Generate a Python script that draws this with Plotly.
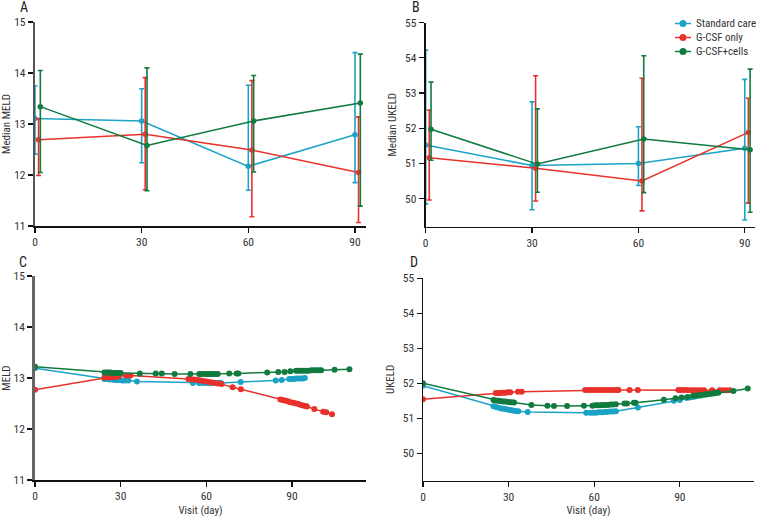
import plotly.graph_objects as go

# ---------------- data ----------------
visit_days = [0, 30, 60, 90]
series_names = ["Standard care", "G-CSF only", "G-CSF+cells"]

# Panel A: median MELD with error bars (low / high)
A_std = [13.11, 13.06, 12.17, 12.79]
A_std_lo = [12.41, 12.24, 11.70, 11.85]
A_std_hi = [13.75, 13.69, 13.76, 14.40]
A_gcsf = [12.69, 12.80, 12.49, 12.05]
A_gcsf_lo = [11.99, 11.71, 11.18, 11.07]
A_gcsf_hi = [13.10, 13.91, 13.85, 13.14]
A_cells = [13.34, 12.58, 13.06, 13.41]
A_cells_lo = [12.05, 11.69, 12.06, 11.39]
A_cells_hi = [14.05, 14.10, 13.95, 14.37]

# Panel B: median UKELD with error bars
B_std = [51.52, 50.94, 51.00, 51.43]
B_std_lo = [49.85, 49.68, 50.37, 49.39]
B_std_hi = [54.22, 52.75, 52.04, 53.39]
B_gcsf = [51.16, 50.86, 50.50, 51.88]
B_gcsf_lo = [49.96, 49.93, 49.65, 49.87]
B_gcsf_hi = [52.52, 53.49, 53.42, 52.85]
B_cells = [51.97, 50.98, 51.69, 51.39]
B_cells_lo = [51.09, 50.18, 50.17, 49.61]
B_cells_hi = [53.31, 52.55, 54.06, 53.68]

# Panel C: modelled MELD by visit day
C_std_days = [0, 24.3, 25.2, 26.1, 27.0, 27.9, 28.8, 29.7, 30.6, 31.5, 32.7, 35.7,
              55.3, 57.5, 58.5, 59.5, 60.5, 61.5, 62.5, 63.5, 64.5, 65.1, 72.0,
              84.3, 86.4, 89.0, 89.8, 90.6, 91.4, 92.2, 93.0, 93.8, 94.5]
C_std = [13.19, 12.98, 12.98, 12.97, 12.97, 12.96, 12.96, 12.96, 12.95, 12.95, 12.95, 12.93,
         12.90, 12.90, 12.90, 12.90, 12.90, 12.90, 12.90, 12.90, 12.90, 12.90, 12.92,
         12.95, 12.96, 12.98, 12.98, 12.98, 12.99, 12.99, 12.99, 12.99, 13.00]
C_gcsf_days = [0, 24.3, 25.0, 25.7, 26.4, 27.1, 27.8, 28.5, 29.2, 31.9, 33.4,
               53.7, 54.8, 55.9, 57.0, 58.0, 59.0, 60.0, 61.0, 62.0, 63.0, 64.0, 65.3,
               69.2, 72.1, 85.9, 86.7, 87.5, 88.3, 89.1, 89.9, 90.7, 91.5, 92.3, 93.1,
               93.9, 94.7, 95.2, 97.8, 100.9, 102.0, 104.0]
C_gcsf = [12.77, 13.01, 13.01, 13.01, 13.02, 13.02, 13.02, 13.03, 13.03, 13.05, 13.05,
          12.98, 12.97, 12.97, 12.96, 12.95, 12.94, 12.93, 12.92, 12.91, 12.90, 12.89, 12.88,
          12.82, 12.78, 12.58, 12.57, 12.56, 12.55, 12.53, 12.52, 12.51, 12.50, 12.49, 12.47,
          12.46, 12.45, 12.44, 12.39, 12.34, 12.33, 12.29]
C_cells_days = [0, 24.3, 25.0, 25.7, 26.4, 27.1, 27.8, 28.5, 29.2, 30.0,
                36.7, 42.3, 44.4, 48.9, 54.4, 57.5, 58.3, 59.2, 60.0, 60.8, 61.6, 62.4,
                63.2, 64.0, 68.0, 70.6, 71.2, 81.3, 85.2, 87.4, 89.4, 91.4, 92.3, 93.2,
                94.1, 95.0, 95.9, 96.8, 97.7, 98.6, 99.5, 100.2, 104.9, 110.1]
C_cells = [13.22, 13.11, 13.11, 13.11, 13.11, 13.10, 13.10, 13.10, 13.10, 13.10,
           13.09, 13.09, 13.09, 13.08, 13.08, 13.08, 13.08, 13.08, 13.08, 13.08, 13.08, 13.08,
           13.08, 13.08, 13.09, 13.09, 13.09, 13.11, 13.12, 13.12, 13.13, 13.14, 13.14, 13.14,
           13.14, 13.14, 13.14, 13.15, 13.15, 13.15, 13.15, 13.15, 13.16, 13.17]

# Panel D: modelled UKELD by visit day
D_std_days = [0, 24.7, 25.6, 26.5, 27.4, 28.3, 29.2, 30.0, 30.8, 31.6, 32.4, 33.4, 36.7,
              57.2, 58.6, 59.6, 60.6, 61.6, 62.6, 63.6, 64.6, 65.6, 66.6, 67.6, 75.3,
              87.9, 90.0, 92.4, 93.4, 94.4, 95.4, 96.4, 97.4, 98.4, 99.4, 100.4, 101.4,
              102.4, 103.5]
D_std = [51.93, 51.34, 51.32, 51.30, 51.28, 51.27, 51.26, 51.24, 51.23, 51.22, 51.21, 51.20, 51.18,
         51.16, 51.16, 51.16, 51.16, 51.17, 51.17, 51.18, 51.18, 51.19, 51.19, 51.20, 51.31,
         51.50, 51.52, 51.58, 51.59, 51.61, 51.62, 51.64, 51.65, 51.67, 51.68, 51.70, 51.72,
         51.74, 51.75]
D_gcsf_days = [0, 25.5, 26.2, 26.9, 27.6, 28.3, 29.0, 29.7, 30.6, 33.3, 34.6,
               56.8, 57.8, 58.8, 59.8, 60.8, 61.8, 62.8, 63.8, 64.8, 65.8, 66.8, 67.8, 68.5,
               72.4, 75.3, 89.5, 90.5, 91.5, 92.5, 93.5, 94.5, 95.5, 96.5, 97.5, 98.5,
               101.3, 104.0, 105.2, 106.4, 107.5]
D_gcsf = [51.54, 51.72, 51.72, 51.72, 51.73, 51.73, 51.73, 51.74, 51.74, 51.76, 51.76,
          51.81, 51.81, 51.81, 51.81, 51.81, 51.81, 51.81, 51.81, 51.81, 51.81, 51.81, 51.81, 51.81,
          51.81, 51.81, 51.81, 51.81, 51.81, 51.81, 51.80, 51.80, 51.80, 51.80, 51.80, 51.80,
          51.80, 51.80, 51.80, 51.80, 51.80]
D_cells_days = [0, 24.7, 25.5, 26.3, 27.1, 27.9, 28.7, 29.5, 30.3, 31.1, 31.9,
                38.0, 43.6, 45.9, 50.5, 56.4, 59.4, 60.3, 61.2, 62.1, 63.0, 63.9, 64.8,
                65.7, 66.6, 67.6, 70.6, 71.5, 73.9, 74.5, 84.4, 88.5, 90.6, 92.7, 94.7,
                95.7, 96.7, 97.7, 98.7, 99.7, 100.7, 101.7, 102.6, 103.5, 108.8, 113.8]
D_cells = [52.00, 51.52, 51.51, 51.50, 51.49, 51.48, 51.48, 51.47, 51.46, 51.46, 51.45,
           51.38, 51.36, 51.35, 51.35, 51.36, 51.36, 51.37, 51.37, 51.37, 51.38, 51.38, 51.38,
           51.39, 51.39, 51.40, 51.42, 51.42, 51.44, 51.44, 51.53, 51.57, 51.59, 51.61, 51.64,
           51.65, 51.66, 51.67, 51.68, 51.69, 51.70, 51.71, 51.72, 51.73, 51.78, 51.85]

# ---------------- style ----------------
COLORS = ["#1ba3c6", "#e8312b", "#107a3f"]
DODGE = [0.0, 1.0, 1.5]          # horizontal dodge (days) of error-bar panels
FONT = "Liberation Sans Narrow, Roboto Condensed, Open Sans, sans-serif"
TXT = "#333333"

fig = go.Figure()

def err_traces(vals, los, his, k, xa, ya):
    xs = [d + DODGE[k] for d in visit_days]
    fig.add_trace(go.Scatter(
        x=xs, y=vals, mode="lines+markers", name=series_names[k],
        xaxis=xa, yaxis=ya, showlegend=False,
        line=dict(color=COLORS[k], width=1.5),
        marker=dict(color=COLORS[k], size=5.5),
        error_y=dict(type="data", symmetric=False,
                     array=[h - v for h, v in zip(his, vals)],
                     arrayminus=[v - l for l, v in zip(los, vals)],
                     color=COLORS[k], thickness=1.6, width=2.5)))

A = [(A_std, A_std_lo, A_std_hi), (A_gcsf, A_gcsf_lo, A_gcsf_hi), (A_cells, A_cells_lo, A_cells_hi)]
B = [(B_std, B_std_lo, B_std_hi), (B_gcsf, B_gcsf_lo, B_gcsf_hi), (B_cells, B_cells_lo, B_cells_hi)]
for k, (v, lo, hi) in enumerate(A):
    err_traces(v, lo, hi, k, "x", "y")
for k, (v, lo, hi) in enumerate(B):
    err_traces(v, lo, hi, k, "x2", "y2")

C = [(C_std_days, C_std), (C_gcsf_days, C_gcsf), (C_cells_days, C_cells)]
D = [(D_std_days, D_std), (D_gcsf_days, D_gcsf), (D_cells_days, D_cells)]
for k, (d, v) in enumerate(C):
    fig.add_trace(go.Scatter(x=d, y=v, mode="lines+markers", xaxis="x3", yaxis="y3",
                             name=series_names[k], showlegend=False,
                             line=dict(color=COLORS[k], width=1.5),
                             marker=dict(color=COLORS[k], size=6)))
for k, (d, v) in enumerate(D):
    fig.add_trace(go.Scatter(x=d, y=v, mode="lines+markers", xaxis="x4", yaxis="y4",
                             name=series_names[k], showlegend=False,
                             line=dict(color=COLORS[k], width=1.5),
                             marker=dict(color=COLORS[k], size=6)))

W, H = 757, 517
def px(x): return x / W
def py(y): return 1 - y / H

def xax(dom, rng, anchor, title=None):
    d = dict(domain=dom, range=rng, anchor=anchor, tickvals=visit_days,
             showgrid=False, zeroline=False, showline=True, linecolor="#111", linewidth=1.6,
             ticks="outside", ticklen=5, tickcolor="#111", tickwidth=1.2,
             tickfont=dict(family=FONT, size=11.5, color=TXT))
    if title:
        d["title"] = dict(text=title, font=dict(family=FONT, size=11, color=TXT), standoff=9)
    return d

def yax(dom, rng, tick0, anchor, title, lc, lw):
    return dict(domain=dom, range=rng, anchor=anchor, dtick=1, tick0=tick0,
                showgrid=False, zeroline=False, showline=True, linecolor=lc, linewidth=lw,
                ticks="outside", ticklen=5, tickcolor="#111", tickwidth=1.2,
                tickfont=dict(family=FONT, size=11.5, color=TXT),
                title=dict(text=title, font=dict(family=FONT, size=11, color=TXT), standoff=6))

fig.update_layout(
    width=W, height=H, margin=dict(l=0, r=0, t=0, b=0, autoexpand=False),
    paper_bgcolor="white", plot_bgcolor="white",
    font=dict(family=FONT, color=TXT), showlegend=False,
    xaxis=xax([px(35), px(366)], [0, 93.1], "y"),
    yaxis=yax([py(226), py(22)], [11, 15], 11, "x", "Median MELD", "#555", 2.2),
    xaxis2=xax([px(425.7), px(754.7)], [0, 92.8], "y2"),
    yaxis2=yax([py(226.7), py(22.7)], [49.2, 55], 50, "x2", "Median UKELD", "#111", 2),
    xaxis3=xax([px(35), px(366)], [0, 115.9], "y3", "Visit (day)"),
    yaxis3=yax([py(480), py(276)], [11, 15], 11, "x3", "MELD", "#666", 2.8),
    xaxis4=xax([px(423), px(754)], [0, 116], "y4", "Visit (day)"),
    yaxis4=yax([py(480.5), py(278.3)], [49.22, 55], 50, "x4", "UKELD", "#111", 1.5),
)

# legend (drawn as a key: short line + dot + label)
legend_rows_y = [23.5, 37.5, 51.5]
for k, name in enumerate(series_names):
    yy = legend_rows_y[k]
    fig.add_shape(type="line", xref="paper", yref="paper",
                  x0=px(675), x1=px(691), y0=py(yy), y1=py(yy),
                  line=dict(color=COLORS[k], width=1.5))
    fig.add_shape(type="circle", xref="paper", yref="paper",
                  x0=px(679.5), x1=px(686.5), y0=py(yy + 3.5), y1=py(yy - 3.5),
                  line=dict(color=COLORS[k], width=0), fillcolor=COLORS[k])
    fig.add_annotation(text=name, x=px(694), y=py(yy), xref="paper", yref="paper",
                       xanchor="left", yanchor="middle", showarrow=False,
                       font=dict(family=FONT, size=11, color=TXT))

for letter, x, y in [("A", 18, 7), ("B", 410, 7), ("C", 17, 262), ("D", 408, 262)]:
    fig.add_annotation(text=letter, x=px(x), y=py(y), xref="paper", yref="paper",
                       xanchor="left", yanchor="middle", showarrow=False,
                       font=dict(family=FONT, size=14, color="#222"))

# remove the browser's default page margin so the figure fills the window exactly
fig.write_html("out.html", config={"displayModeBar": False, "staticPlot": True},
               post_script="document.body.style.margin='0';document.body.style.overflow='hidden';")
